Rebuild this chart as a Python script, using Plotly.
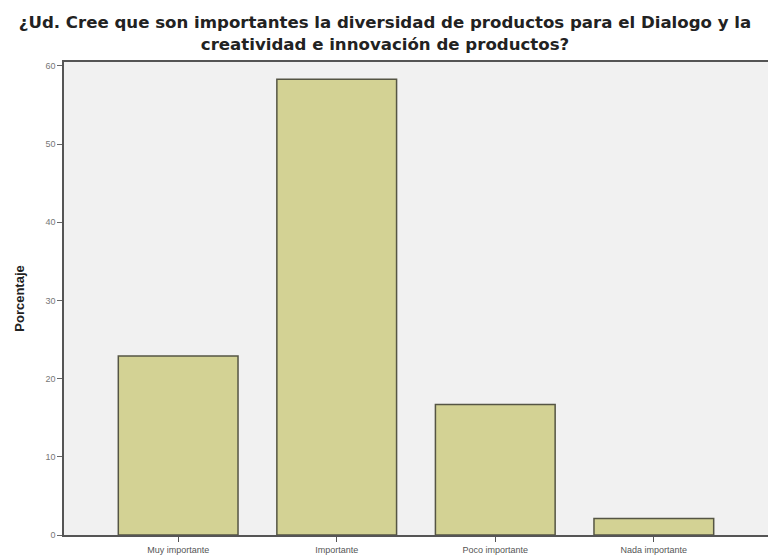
import plotly.graph_objects as go

categories = ["Muy importante", "Importante", "Poco importante", "Nada importante"]
percentages = [22.9, 58.3, 16.7, 2.1]
y_ticks = [0, 10, 20, 30, 40, 50, 60]
title_lines = [
    "¿Ud. Cree que son importantes la diversidad de productos para el Dialogo y la",
    "creatividad e innovación de productos?",
]

fig = go.Figure()
fig.add_trace(go.Bar(
    x=list(range(len(categories))),
    y=percentages,
    width=0.755,
    marker=dict(color="#d3d294", line=dict(color="#555544", width=1.5)),
))

fig.update_layout(
    width=768, height=560,
    margin=dict(l=64, r=0, t=62, b=25),
    paper_bgcolor="white",
    plot_bgcolor="#f1f1f1",
    showlegend=False,
    title=dict(
        text="<br>".join(title_lines),
        xref="container", x=385 / 768, xanchor="center",
        yref="container", y=1 - 28 / 560, yanchor="top",
        font=dict(family="DejaVu Sans", size=16.6, color="#222222", weight="bold"),
    ),
    xaxis=dict(
        range=[-0.72, 3.72],
        tickmode="array",
        tickvals=list(range(len(categories))),
        ticktext=categories,
        ticks="outside", ticklen=5, tickcolor="#555555",
        showline=True, linecolor="#555555", linewidth=1.5, mirror=True,
        showgrid=False, zeroline=False,
        tickfont=dict(family="Liberation Sans, Arial", size=9, color="#555555"),
    ),
    yaxis=dict(
        range=[0, 60.5],
        tickmode="array",
        tickvals=y_ticks,
        ticks="outside", ticklen=5, tickcolor="#666666",
        showline=True, linecolor="#555555", linewidth=1.5,
        showgrid=False, zeroline=False,
        tickfont=dict(family="Liberation Sans, Arial", size=9, color="#777777"),
        title=dict(text="<b>Porcentaje</b>", standoff=18,
                   font=dict(family="Liberation Sans, Arial", size=13, color="#222222")),
    ),
)

fig.write_html("out.html", config={"displayModeBar": False},
               post_script="document.body.style.margin='0px';")
